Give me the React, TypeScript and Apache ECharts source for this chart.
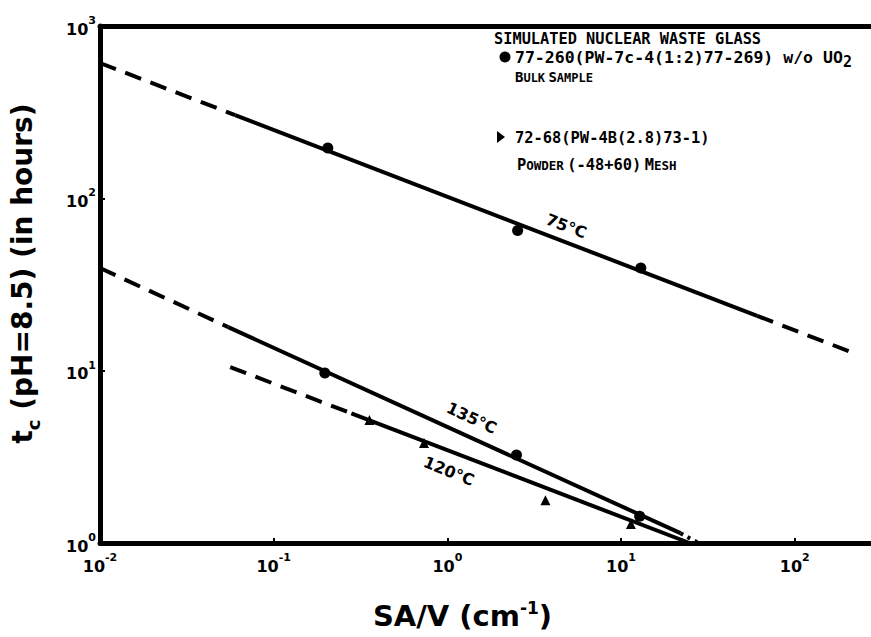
import React, { useEffect, useRef } from "react";
import * as echarts from "echarts";

// Measured points (SA/V in cm^-1, t_c in hours)
const sav75 = [0.205, 2.54, 13.0];
const tc75 = [196, 65, 39.4];
const sav135 = [0.197, 2.5, 12.8];
const tc135 = [9.7, 3.24, 1.43];
const sav120 = [0.356, 0.734, 3.67, 11.4];
const tc120 = [5.17, 3.8, 1.77, 1.29];

// Fitted lines, broken into segments (endpoints)
const fit75Sav = [0.01, 0.06, 60.8, 212];
const fit75Tc = [610, 304, 20.8, 12.8];
const fit75Style = ["dashed", "solid", "dashed"];
const fit135Sav = [0.01, 0.0547, 22.0, 27.9];
const fit135Tc = [39.4, 17.9, 1.14, 1.0];
const fit135Style = ["dashed", "solid", "dotted"];
const fit120Sav = [0.0562, 0.28, 24.8];
const fit120Tc = [10.5, 5.65, 1.0];
const fit120Style = ["dashed", "solid"];

const tempLabels = ["75°C", "135°C", "120°C"];
const tempLabelSav = [4.84, 1.38, 1.02];
const tempLabelTc = [69, 5.31, 2.61];
const tempLabelAngle = [-21, -25, -22];

const legendTitle = "SIMULATED NUCLEAR WASTE GLASS";
const legendCircle = "77-260(PW-7c-4(1:2)77-269) w/o UO";
const legendTriangle = "72-68(PW-4B(2.8)73-1)";

const X_MIN = 0.01;
const X_MAX = 275;
const Y_MIN = 1;
const Y_MAX = 1000;

const INK = "#000";
const TICK_FONT = "DejaVu Sans";
const MONO = "DejaVu Sans Mono";

function dashFor(kind: string): any {
  if (kind === "dashed") return [17, 10];
  if (kind === "dotted") return [3, 5];
  return "solid";
}

function segments(name: string, xs: number[], ys: number[], styles: string[]) {
  const out: any[] = [];
  for (let i = 0; i < xs.length - 1; i++) {
    out.push({
      name: `${name} fit ${i + 1}`,
      type: "line",
      data: [
        [xs[i], ys[i]],
        [xs[i + 1], ys[i + 1]],
      ],
      showSymbol: false,
      symbol: "none",
      silent: true,
      lineStyle: { color: INK, width: 4, type: dashFor(styles[i]), cap: "butt", opacity: 1 },
      z: 3,
    });
  }
  return out;
}

function pairs(xs: number[], ys: number[]) {
  return xs.map((x, i) => [x, ys[i]]);
}

const expFormatter = (v: number) => {
  const e = Math.round(Math.log10(v));
  return `{b|10}{s|${e}}`;
};

const tickRich = {
  b: { fontFamily: TICK_FONT, fontWeight: "bold", fontSize: 16, color: INK, verticalAlign: "bottom", lineHeight: 22 },
  s: { fontFamily: TICK_FONT, fontWeight: "bold", fontSize: 11, color: INK, verticalAlign: "top", lineHeight: 22 },
};

export default function App() {
  const ref = useRef<HTMLDivElement>(null);

  useEffect(() => {
    if (!ref.current) return;
    const chart = echarts.init(ref.current, undefined, { renderer: "svg" });

    const series: any[] = [
      ...segments("75°C", fit75Sav, fit75Tc, fit75Style),
      ...segments("135°C", fit135Sav, fit135Tc, fit135Style),
      ...segments("120°C", fit120Sav, fit120Tc, fit120Style),
      {
        name: "75°C bulk",
        type: "scatter",
        data: pairs(sav75, tc75),
        symbol: "circle",
        symbolSize: 11,
        itemStyle: { color: INK, opacity: 1 },
        z: 4,
      },
      {
        name: "135°C bulk",
        type: "scatter",
        data: pairs(sav135, tc135),
        symbol: "circle",
        symbolSize: 11,
        itemStyle: { color: INK, opacity: 1 },
        z: 4,
      },
      {
        name: "120°C powder",
        type: "scatter",
        data: pairs(sav120, tc120),
        symbol: "triangle",
        symbolSize: 10,
        itemStyle: { color: INK, opacity: 1 },
        z: 4,
      },
      {
        name: "temperature labels",
        type: "scatter",
        symbolSize: 0,
        silent: true,
        itemStyle: { opacity: 1 },
        data: tempLabels.map((t, i) => ({
          value: [tempLabelSav[i], tempLabelTc[i]],
          label: {
            show: true,
            position: "inside",
            formatter: t,
            rotate: tempLabelAngle[i],
            fontFamily: TICK_FONT,
            fontWeight: "bold",
            fontSize: 16,
            color: INK,
            opacity: 1,
          },
        })),
        z: 5,
      },
    ];

    const graphic: any[] = [
      {
        type: "text",
        x: 494,
        y: 39,
        style: { text: legendTitle, fill: INK, font: `bold 15.3px "${MONO}"`, align: "left", verticalAlign: "middle" },
      },
      {
        type: "circle",
        shape: { cx: 505, cy: 57, r: 5.5 },
        style: { fill: INK },
      },
      {
        type: "text",
        x: 515,
        y: 57,
        style: { text: legendCircle, fill: INK, font: `bold 16.5px "${MONO}"`, align: "left", verticalAlign: "middle" },
      },
      {
        type: "text",
        x: 843,
        y: 62,
        style: { text: "2", fill: INK, font: `bold 15px "${MONO}"`, align: "left", verticalAlign: "middle" },
      },
      {
        type: "text",
        x: 515,
        y: 77,
        style: {
          text: "{B|B}{s|ULK} {B|S}{s|AMPLE}",
          align: "left",
          verticalAlign: "middle",
          rich: {
            B: { font: `bold 14px "${MONO}"`, fill: INK, verticalAlign: "bottom", lineHeight: 14 },
            s: { font: `bold 12px "${MONO}"`, fill: INK, verticalAlign: "bottom", lineHeight: 14 },
          },
        },
      },
      {
        type: "polygon",
        shape: { points: [[497, 131], [505, 137], [497, 143]] },
        style: { fill: INK },
      },
      {
        type: "text",
        x: 515,
        y: 138,
        style: { text: legendTriangle, fill: INK, font: `bold 15.4px "${MONO}"`, align: "left", verticalAlign: "middle" },
      },
      {
        type: "text",
        x: 517,
        y: 164,
        style: {
          text: "{B|P}{s|OWDER} {B|(-48+60)} {B|M}{s|ESH}",
          align: "left",
          verticalAlign: "middle",
          rich: {
            B: { font: `bold 15.4px "${MONO}"`, fill: INK, verticalAlign: "bottom", lineHeight: 16 },
            s: { font: `bold 12.5px "${MONO}"`, fill: INK, verticalAlign: "bottom", lineHeight: 16 },
          },
        },
      },
    ];

    chart.setOption({
      animation: false,
      backgroundColor: "#fff",
      grid: { left: 95, top: 26, right: 0, bottom: 94, containLabel: false },
      xAxis: [
        {
          type: "log",
          logBase: 10,
          min: X_MIN,
          max: X_MAX,
          name: "SA/V (cm{s|-1})",
          nameLocation: "middle",
          nameGap: 56,
          nameTextStyle: {
            fontFamily: TICK_FONT,
            fontWeight: "bold",
            fontSize: 29,
            color: INK,
            padding: [0, 46, 0, 0],
            rich: {
              s: { fontFamily: TICK_FONT, fontWeight: "bold", fontSize: 17, color: INK, verticalAlign: "top", lineHeight: 34 },
            },
          },
          axisLine: { show: true, onZero: false, lineStyle: { color: INK, width: 5 } },
          axisTick: { show: true, inside: true, length: 5, lineStyle: { color: INK, width: 2 } },
          minorTick: { show: false },
          splitLine: { show: false },
          axisLabel: {
            show: true,
            margin: 9,
            showMaxLabel: false,
            formatter: expFormatter,
            rich: tickRich,
          },
        },
        {
          type: "log",
          logBase: 10,
          min: X_MIN,
          max: X_MAX,
          position: "top",
          axisLine: { show: true, onZero: false, lineStyle: { color: INK, width: 5 } },
          axisTick: { show: false },
          axisLabel: { show: false },
          splitLine: { show: false },
        },
      ],
      yAxis: {
        type: "log",
        logBase: 10,
        min: Y_MIN,
        max: Y_MAX,
        name: "{t|t}{c|c}{t| (pH=8.5) (in hours)}",
        nameLocation: "middle",
        nameGap: 58,
        nameRotate: 90,
        nameTextStyle: {
          padding: [0, 0, 0, 22],
          rich: {
            t: { fontFamily: TICK_FONT, fontWeight: "bold", fontSize: 28, color: INK, verticalAlign: "top", lineHeight: 34 },
            c: { fontFamily: TICK_FONT, fontWeight: "bold", fontSize: 18, color: INK, verticalAlign: "bottom", lineHeight: 34 },
          },
        },
        axisLine: { show: true, onZero: false, lineStyle: { color: INK, width: 5 } },
        axisTick: { show: true, inside: true, length: 5, lineStyle: { color: INK, width: 2 } },
        minorTick: { show: false },
        splitLine: { show: false },
        axisLabel: {
          show: true,
          margin: 4,
          formatter: expFormatter,
          rich: tickRich,
        },
      },
      graphic,
      series,
    });

    return () => chart.dispose();
  }, []);

  return (
    <div
      ref={ref}
      style={{ position: "fixed", left: 0, top: 0, width: 871, height: 637, background: "#fff" }}
    />
  );
}
